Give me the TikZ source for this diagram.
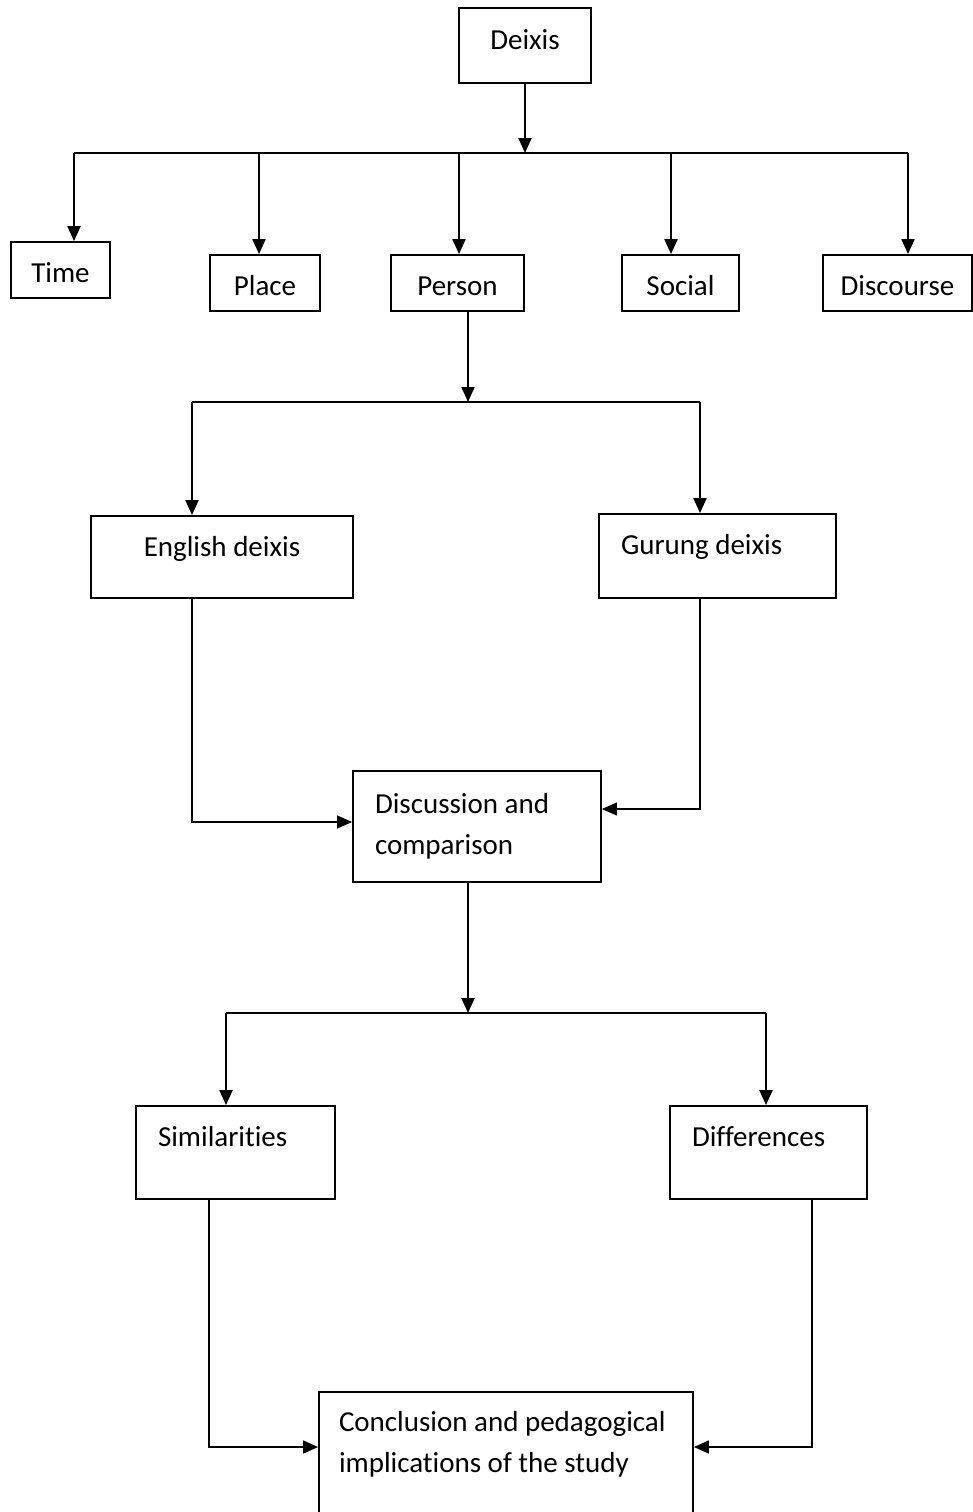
\documentclass[tikz,border=0pt]{standalone}
\usepackage{fontspec}
\setmainfont{Carlito}[Ligatures=CommonOff]
\usetikzlibrary{arrows.meta}

\begin{document}
\begin{tikzpicture}[x=1pt, y=-1pt,
    box/.style={draw, line width=1.8pt, inner ysep=4pt, font=\fontsize{29}{41}\selectfont},
    tier/.style={box, text height=26pt, text depth=2pt},
    lift/.style={box, text height=20pt, text depth=#1},
    leftbox/.style={align=flush left, inner xsep=22pt, text width=#1},
    link/.style={line width=2pt},
    arr/.style={line width=2pt, -{Triangle[length=15pt, width=13pt]}},
    thinarr/.style={line width=1.1pt, -{Triangle[length=15pt, width=13pt]}}
  ]
    \useasboundingbox (0,0) rectangle (972,1512);

    % Top box
    \node[lift=12.6pt, minimum width=132pt, minimum height=75pt] (deixis) at (525,45.5) {Deixis};

    % Types of deixis
    \node[tier, minimum width=99pt, minimum height=56pt] (time) at (60.5,270) {Time};
    \node[tier, minimum width=110pt, minimum height=56pt] (place) at (265,283) {Place};
    \node[tier, minimum width=133pt, minimum height=56pt] (person) at (457.5,283) {Person};
    \node[tier, minimum width=117pt, minimum height=56pt] (social) at (680.5,283) {Social};
    \node[tier, minimum width=149pt, minimum height=56pt] (discourse) at (897.5,283) {Discourse};

    % Languages
    \node[lift=21.6pt, minimum width=262pt, minimum height=82pt] (english) at (222,557) {English deixis};
    \node[lift=23.6pt, leftbox=193pt, minimum width=237pt, minimum height=84pt] (gurung) at (717.5,556) {Gurung deixis};

    % Comparison and results
    \node[box, leftbox=204pt, minimum width=248pt, minimum height=111pt] (discuss) at (477,826.5) {Discussion and\\comparison};
    \node[lift=32.6pt, leftbox=155pt, minimum width=199pt, minimum height=93pt] (simil) at (235.5,1152.5) {Similarities};
    \node[lift=32.6pt, leftbox=153pt, minimum width=197pt, minimum height=93pt] (diff) at (768.5,1152.5) {Differences};
    \node[lift=81pt, leftbox=334pt, inner xsep=20pt, minimum width=374pt, minimum height=140pt] (concl) at (506,1462) {Conclusion and pedagogical\\implications of the study};

    % Junction points
    \coordinate (j1) at (525,153);
    \coordinate (j1w) at (74,153);
    \coordinate (j1e) at (908,153);
    \coordinate (j2) at (468,402);
    \coordinate (j2w) at (192,402);
    \coordinate (j2e) at (700,402);
    \coordinate (j3) at (468,1013);
    \coordinate (j3w) at (226,1013);
    \coordinate (j3e) at (766,1013);
    \coordinate (j4w) at (209,1447);
    \coordinate (j4e) at (812,1447);

    % Deixis to its types
    \draw[arr] (deixis) -- (j1);
    \draw[link] (j1w) -- (j1e);
    \foreach \n/\x in {time/74, place/259, person/459, social/671, discourse/908}
      \draw[arr] (\x,153) -- (\x,153 |- \n.north);

    % Person to languages
    \draw[arr] (person.south -| j2) -- (j2);
    \draw[link] (j2w) -- (j2e);
    \draw[arr] (j2w) -- (j2w |- english.north);
    \draw[arr] (j2e) -- (j2e |- gurung.north);
    \draw[thinarr] (english.south -| j2w) |- ([yshift=4.5pt]discuss.west);
    \draw[thinarr] (gurung.south -| j2e) |- ([yshift=17.5pt]discuss.east);

    % Discussion to results
    \draw[arr] (discuss.south -| j3) -- (j3);
    \draw[link] (j3w) -- (j3e);
    \draw[arr] (j3w) -- (j3w |- simil.north);
    \draw[arr] (j3e) -- (j3e |- diff.north);
    \draw[arr, line width=1.6pt] (simil.south -| j4w) -- (j4w) -- (j4w -| concl.west);
    \draw[arr, line width=1.6pt] (diff.south -| j4e) -- (j4e) -- (j4e -| concl.east);
\end{tikzpicture}
\end{document}
